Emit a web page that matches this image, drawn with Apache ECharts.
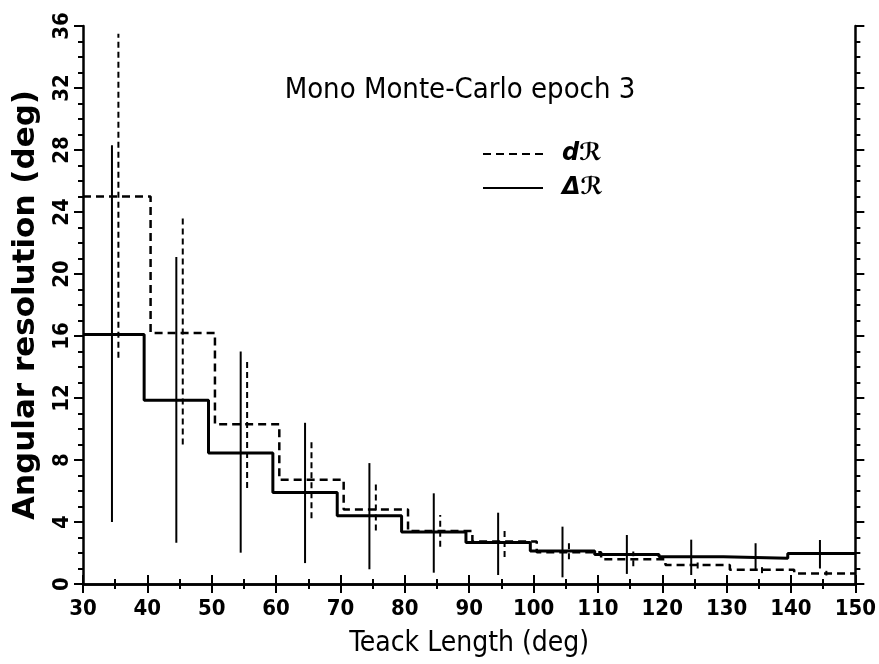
<!DOCTYPE html>
<html>
<head>
<meta charset="utf-8">
<script src="https://cdn.jsdelivr.net/npm/echarts@6/dist/echarts.min.js"></script>
<style>html,body{margin:0;padding:0;background:#fff}#c{width:879px;height:664px}</style>
</head>
<body>
<div id="c"></div>
<script>
// ---- data ----
const binStarts = [30, 40, 50, 60, 70, 80, 90, 100, 110, 120, 130, 140];
const binEnd = 150;
const deltaR = [16.1, 11.85, 8.45, 5.9, 4.4, 3.35, 2.68, 2.13, 1.9, 1.76, 1.66, 1.97];
const deltaRLow = [4.0, 2.66, 2.02, 1.35, 0.95, 0.73, 0.58, 0.43, 0.65, 0.58, 0.85, 1.0];
const deltaRHigh = [28.3, 21.1, 15.0, 10.4, 7.8, 5.85, 4.6, 3.7, 3.16, 2.86, 2.63, 2.84];
const dR = [25.0, 16.2, 10.3, 6.72, 4.8, 3.42, 2.75, 2.05, 1.6, 1.23, 0.92, 0.68];
const dRLow = [14.6, 9.0, 6.2, 4.25, 3.45, 2.4, 1.75, 1.6, 1.15, 1.0, 0.7, 0.55];
const dRHigh = [35.5, 23.6, 14.55, 9.3, 6.5, 4.45, 3.6, 2.66, 2.1, 1.45, 1.1, 0.85];
const xTicks = [30, 40, 50, 60, 70, 80, 90, 100, 110, 120, 130, 140, 150];
const yTicks = [0, 4, 8, 12, 16, 20, 24, 28, 32, 36];

const solidShift = -0.5, dashedShift = 0.5;

function stepData(vals, shift) {
  const d = binStarts.map((s, i) => [i === 0 ? s : s + shift, vals[i]]);
  d.push([binEnd, vals[vals.length - 1]]);
  return d;
}
function errData(lo, hi, shift) {
  return binStarts.map((s, i) => [s + 5 + shift, lo[i], hi[i]]);
}
function errRender(dashed) {
  return function (params, api) {
    const p1 = api.coord([api.value(0), api.value(1)]);
    const p2 = api.coord([api.value(0), api.value(2)]);
    return {
      type: 'line',
      shape: { x1: p1[0], y1: p1[1], x2: p2[0], y2: p2[1] },
      style: { stroke: '#000', lineWidth: 2, lineDash: dashed ? [6, 4] : null }
    };
  };
}

const chart = echarts.init(document.getElementById('c'), null, { renderer: 'canvas' });
const tickFont = { fontFamily: 'DejaVu Sans Condensed, DejaVu Sans', fontWeight: 'bold', fontSize: 22, color: '#000' };
const axisLine = { show: true, lineStyle: { color: '#000', width: 2.5 } };

chart.setOption({
  animation: false,
  backgroundColor: '#fff',
  grid: { left: 83, right: 20, top: 26, bottom: 80, containLabel: false },
  title: {
    text: 'Mono Monte-Carlo epoch 3',
    left: 455, top: 71, textAlign: 'center',
    textStyle: { fontFamily: 'DejaVu Sans Condensed, DejaVu Sans', fontWeight: 500, fontSize: 29, color: '#000' }
  },
  legend: {
    orient: 'vertical', left: 477, top: 137, itemWidth: 60, itemHeight: 14, itemGap: 10,
    data: ['dℛ', 'Δℛ'],
    itemStyle: { opacity: 0 },
    textStyle: { fontFamily: 'DejaVu Sans', fontStyle: 'italic', fontWeight: 'bold', fontSize: 24, color: '#000', padding: [0, 0, 0, 14] }
  },
  xAxis: [
    {
      type: 'value', min: xTicks[0], max: xTicks[xTicks.length - 1], interval: 10, position: 'bottom',
      name: 'Teack Length (deg)', nameLocation: 'middle', nameGap: 46,
      nameTextStyle: { fontFamily: 'DejaVu Sans Condensed, DejaVu Sans', fontSize: 28, color: '#000' },
      axisLine: axisLine,
      axisTick: { show: true, inside: false, length: 9, lineStyle: { color: '#000', width: 2 } },
      minorTick: { show: true, splitNumber: 2, length: 5, lineStyle: { color: '#000', width: 2 } },
      axisLabel: Object.assign({ margin: 14 }, tickFont),
      splitLine: { show: false }
    },
    {
      type: 'value', min: xTicks[0], max: xTicks[xTicks.length - 1], interval: 10, position: 'top',
      axisLine: axisLine,
      axisTick: { show: true, inside: false, length: 9, lineStyle: { color: '#000', width: 2 } },
      minorTick: { show: true, splitNumber: 2, length: 5, lineStyle: { color: '#000', width: 2 } },
      axisLabel: { show: false }, splitLine: { show: false }
    }
  ],
  yAxis: [
    {
      type: 'value', min: yTicks[0], max: yTicks[yTicks.length - 1], interval: 4, position: 'left',
      name: 'Angular resolution (deg)', nameLocation: 'middle', nameGap: 42, nameRotate: 90,
      nameTextStyle: { fontFamily: 'DejaVu Sans', fontWeight: 'bold', fontSize: 31, color: '#000' },
      axisLine: axisLine,
      axisTick: { show: true, inside: false, length: 9, lineStyle: { color: '#000', width: 2 } },
      minorTick: { show: true, splitNumber: 4, length: 5, lineStyle: { color: '#000', width: 2 } },
      axisLabel: Object.assign({ rotate: 90, margin: 10 }, tickFont),
      splitLine: { show: false }
    },
    {
      type: 'value', min: yTicks[0], max: yTicks[yTicks.length - 1], interval: 4, position: 'right',
      axisLine: axisLine,
      axisTick: { show: true, inside: false, length: 9, lineStyle: { color: '#000', width: 2 } },
      minorTick: { show: true, splitNumber: 4, length: 5, lineStyle: { color: '#000', width: 2 } },
      axisLabel: { show: false }, splitLine: { show: false }
    }
  ],
  series: [
    {
      name: 'dℛ', type: 'line', step: 'end', symbol: 'none',
      data: stepData(dR, dashedShift),
      lineStyle: { color: '#000', width: 2.5, type: [8, 5] },
      itemStyle: { color: '#000' }
    },
    {
      name: 'Δℛ', type: 'line', step: 'end', symbol: 'none',
      data: stepData(deltaR, solidShift),
      lineStyle: { color: '#000', width: 3, type: 'solid' },
      itemStyle: { color: '#000' }
    },
    {
      type: 'custom', renderItem: errRender(true), encode: { x: 0, y: [1, 2] },
      data: errData(dRLow, dRHigh, dashedShift), z: 3
    },
    {
      type: 'custom', renderItem: errRender(false), encode: { x: 0, y: [1, 2] },
      data: errData(deltaRLow, deltaRHigh, solidShift), z: 3
    }
  ]
});
</script>
</body>
</html>
